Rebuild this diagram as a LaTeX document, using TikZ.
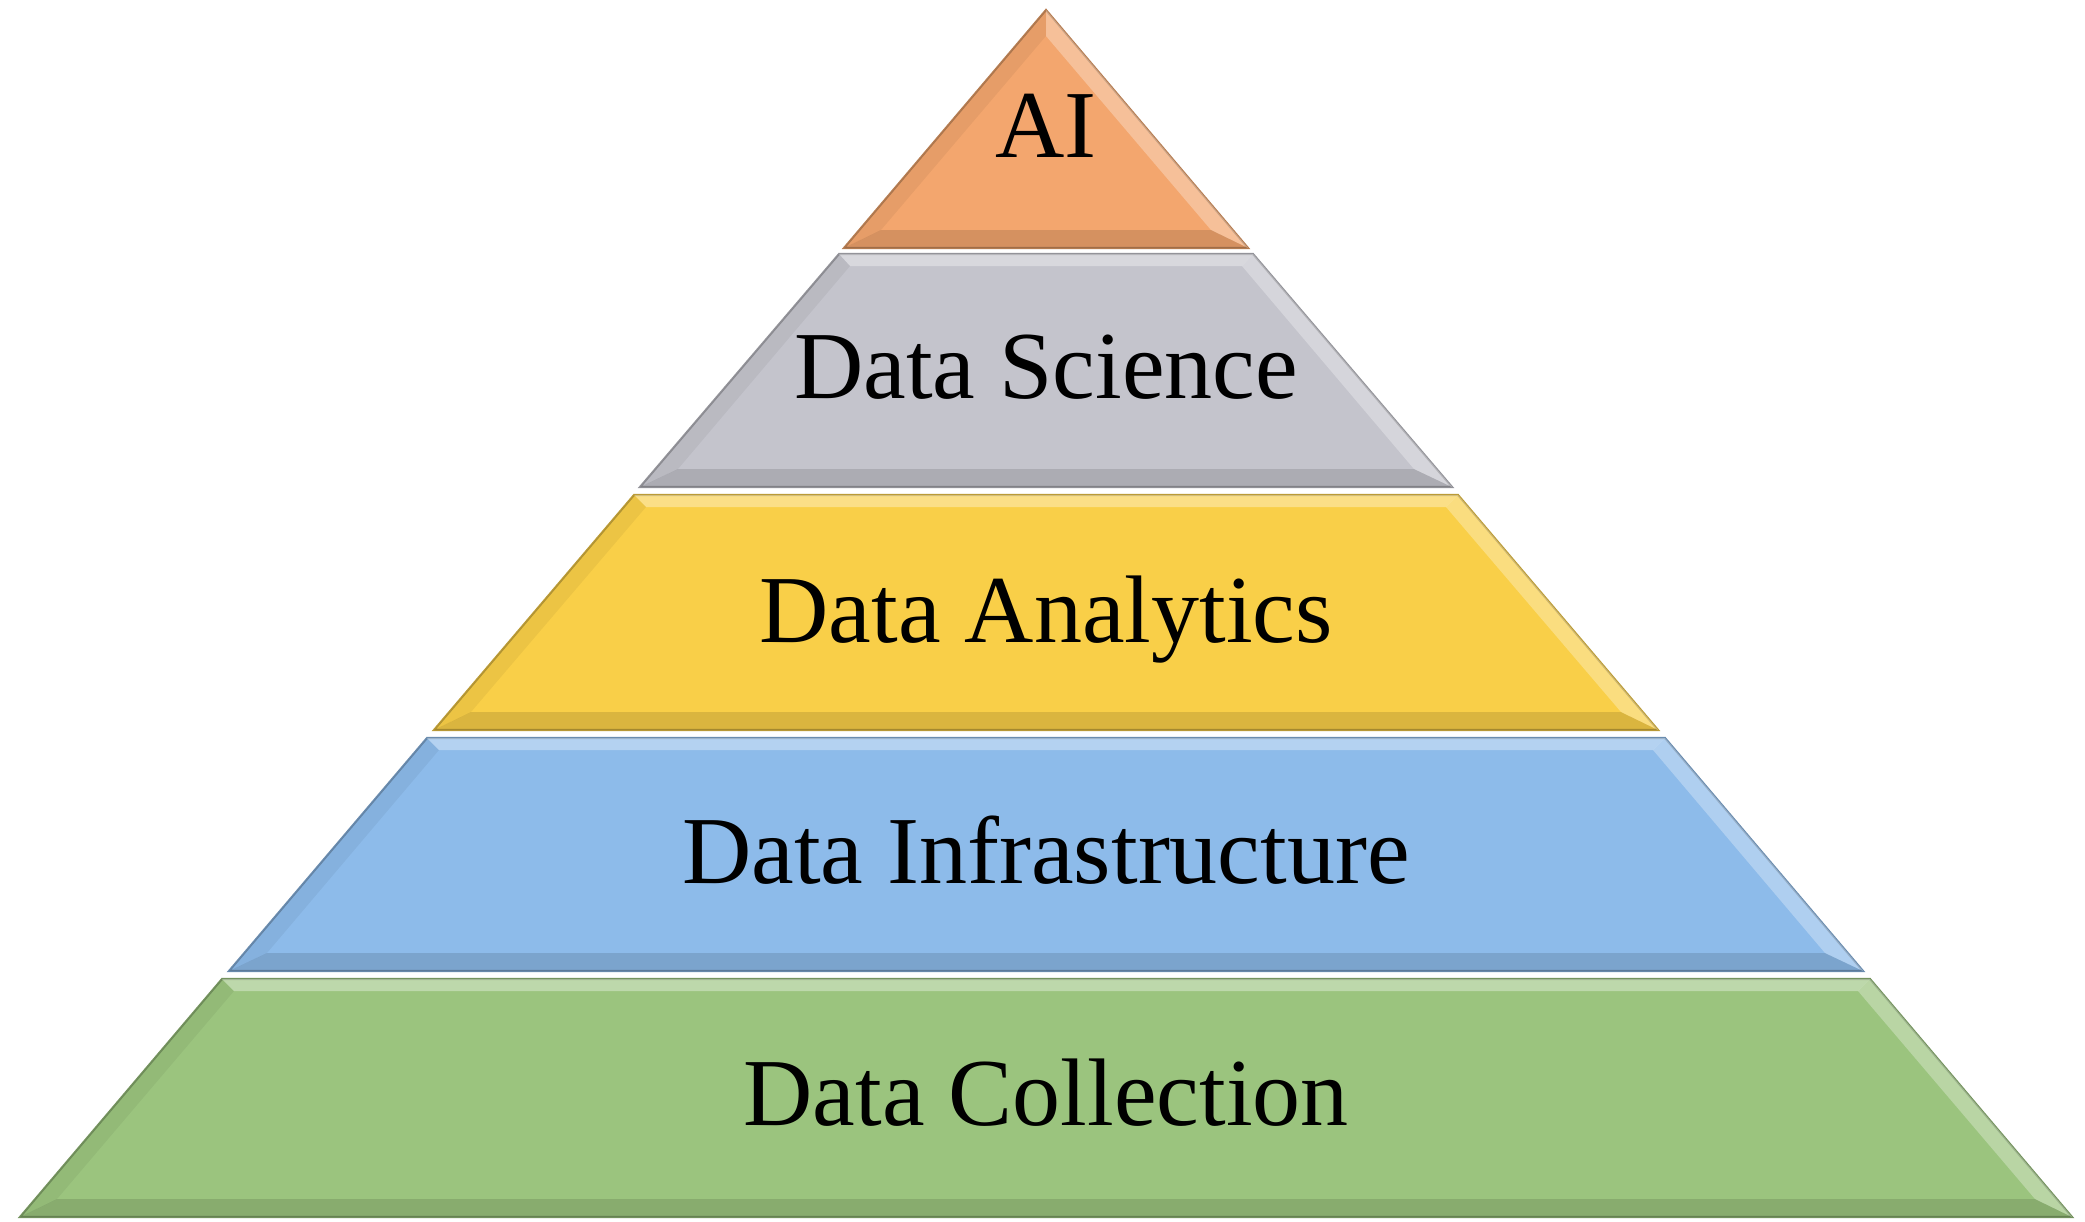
\documentclass[tikz,border=0pt]{standalone}
\usepackage{fontspec}
\setmainfont{Liberation Serif}
\usepackage{tikz}
\usetikzlibrary{positioning}
\usepackage{xcolor}
\definecolor{aiorange}{RGB}{243,166,110}
\definecolor{dsgrey}{RGB}{196,196,204}
\definecolor{dayellow}{RGB}{249,207,72}
\definecolor{diblue}{RGB}{141,187,234}
\definecolor{dcgreen}{RGB}{155,196,126}

\begin{document}
\begin{tikzpicture}[x=0.01cm,y=-0.01cm,
  topfacet/.style={fill=white,fill opacity=0.35},
  botfacet/.style={fill=black,fill opacity=0.12},
  leftfacet/.style={fill=black,fill opacity=0.05},
  rightfacet/.style={fill=white,fill opacity=0.3},
  label/.style={anchor=base,font=\fontsize{27.3}{32}\selectfont,text=black}]
\useasboundingbox (0,0) rectangle (2085,1221);
% AI
\filldraw [fill=aiorange,draw=aiorange!75!black,line width=0.6pt] (1046,10) -- (1248,248) -- (844,248) -- cycle;
\fill [leftfacet] (1046,10) -- (844,248) -- (881,230) -- (1046,36) -- cycle;
\fill [rightfacet] (1046,10) -- (1248,248) -- (1211,230) -- (1046,36) -- cycle;
\fill [botfacet] (844,248) -- (1248,248) -- (1211,230) -- (881,230) -- cycle;
% Data Science
\filldraw [fill=dsgrey,draw=dsgrey!75!black,line width=0.6pt] (839,254) -- (1253,254) -- (1452,487) -- (640,487) -- cycle;
\fill [topfacet] (839,254) -- (1253,254) -- (1242,266) -- (850,266) -- cycle;
\fill [botfacet] (640,487) -- (1452,487) -- (1414,469) -- (678,469) -- cycle;
\fill [leftfacet] (839,254) -- (850,266) -- (678,469) -- (640,487) -- cycle;
\fill [rightfacet] (1253,254) -- (1452,487) -- (1414,469) -- (1242,266) -- cycle;
% Data Analytics
\filldraw [fill=dayellow,draw=dayellow!75!black,line width=0.6pt] (634,495) -- (1458,495) -- (1658,730) -- (434,730) -- cycle;
\fill [topfacet] (634,495) -- (1458,495) -- (1446,507) -- (646,507) -- cycle;
\fill [botfacet] (434,730) -- (1658,730) -- (1621,712) -- (471,712) -- cycle;
\fill [leftfacet] (634,495) -- (646,507) -- (471,712) -- (434,730) -- cycle;
\fill [rightfacet] (1458,495) -- (1658,730) -- (1621,712) -- (1446,507) -- cycle;
% Data Infrastructure
\filldraw [fill=diblue,draw=diblue!75!black,line width=0.6pt] (427,738) -- (1665,738) -- (1863,971) -- (229,971) -- cycle;
\fill [topfacet] (427,738) -- (1665,738) -- (1653,750) -- (439,750) -- cycle;
\fill [botfacet] (229,971) -- (1863,971) -- (1825,953) -- (267,953) -- cycle;
\fill [leftfacet] (427,738) -- (439,750) -- (267,953) -- (229,971) -- cycle;
\fill [rightfacet] (1665,738) -- (1863,971) -- (1825,953) -- (1653,750) -- cycle;
% Data Collection
\filldraw [fill=dcgreen,draw=dcgreen!75!black,line width=0.6pt] (222,979) -- (1870,979) -- (2072,1217) -- (20,1217) -- cycle;
\fill [topfacet] (222,979) -- (1870,979) -- (1858,991) -- (234,991) -- cycle;
\fill [botfacet] (20,1217) -- (2072,1217) -- (2035,1199) -- (57,1199) -- cycle;
\fill [leftfacet] (222,979) -- (234,991) -- (57,1199) -- (20,1217) -- cycle;
\fill [rightfacet] (1870,979) -- (2072,1217) -- (2035,1199) -- (1858,991) -- cycle;
% labels
\node [label] (ai) at (1046,157) {AI};
\node [label] (science) at (1046,398) {Data Science};
\node [label] (analytics) at (1046,642) {Data Analytics};
\node [label] (infra) at (1046,883) {Data Infrastructure};
\node [label] (collection) at (1046,1125) {Data Collection};
\end{tikzpicture}
\end{document}
